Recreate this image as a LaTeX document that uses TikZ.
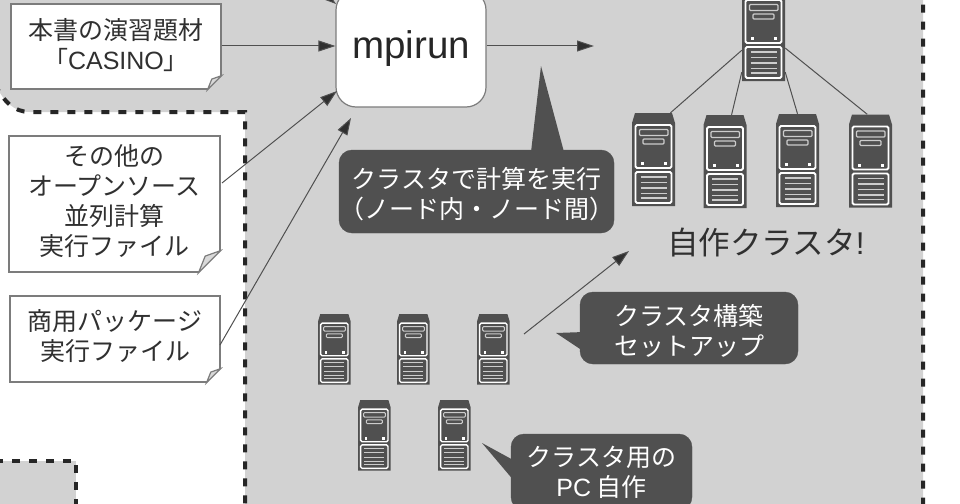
\documentclass[tikz,border=0pt]{standalone}
\usepackage{fontspec}
\setmainfont{Liberation Sans}
\newfontfamily\jpfont{Noto Sans CJK JP}
\usetikzlibrary{shapes,arrows.meta,calc}
\definecolor{areagray}{HTML}{D2D2D2}
\definecolor{darkgray}{HTML}{505050}
\definecolor{notegray}{HTML}{7C7C7C}
\definecolor{inkgray}{HTML}{303030}
\newcommand{\lastline}[1]{\rule[-#1]{0pt}{#1}}
\newcommand{\firstline}[1]{\rule{0pt}{#1}}
\tikzset{
  notebox/.style   = {draw=notegray, fill=white, line width=1.2pt, align=center,
                      inner sep=0pt, text=inkgray,
                      font=\jpfont\fontsize{25}{30}\selectfont},
  runbox/.style    = {draw=notegray, fill=white, line width=1.2pt, rounded corners=20pt,
                      inner sep=0pt, minimum width=150pt, minimum height=117pt,
                      text=black!85, font=\fontsize{38.5}{40}\selectfont},
  talkbox/.style   = {draw=darkgray, fill=darkgray, rounded corners=13pt, align=center,
                      inner sep=0pt, text=white,
                      font=\jpfont\fontsize{25}{30}\selectfont},
  flowedge/.style  = {draw=darkgray, line width=1pt, -{Triangle[length=17pt,width=11pt,fill=inkgray]}},
  linkedge/.style  = {draw=darkgray, line width=1pt},
  areaedge/.style  = {draw=black!85, line width=4pt, dash pattern=on 8pt off 9pt},
  serverbox/.style = {rectangle, inner sep=0pt, minimum width=43pt, minimum height=93pt}
}
\newcommand{\servernode}[4]{
  \begin{scope}[shift={(#2,#3)},scale=#4]
    \node[serverbox,transform shape] (#1) at (21.5,46.5) {};
    \fill[darkgray] (3,0) -- (40,0) -- (43,10) -- (43,93) -- (0,93) -- (0,10) -- cycle;
    \draw[white,line width=#4*1.8pt,rounded corners=1.5pt] (3.5,12) rectangle (39.5,55);
    \draw[white,line width=#4*1.8pt,rounded corners=1.5pt] (3.5,59) rectangle (39.5,90);
    \draw[white!80!black,line width=#4*1.3pt,rounded corners=1pt] (7.5,16.5) rectangle (36,22.5);
    \draw[white!80!black,line width=#4*1.3pt,rounded corners=1pt] (11,26) rectangle (32,31);
    \fill[white] (9,49) rectangle +(3,3);
    \fill[white] (32,49) rectangle +(3,3);
    \foreach \liney in {64,69.5,75,80.5,85}
      \draw[white!80!black,line width=#4*1.2pt] (8.5,\liney) -- (34.5,\liney);
  \end{scope}
}
\newcommand{\notefold}[3]{
  \fill[#3] ($(#1.south east)+(-#2,0.6)$) -- ($(#1.south east)+(0.6,0.6)$)
    -- ($(#1.south east)+(0.6,-#2)$) -- cycle;
  \filldraw[draw=notegray,fill=white!85!black,line width=1.2pt]
    ($(#1.south east)+(-#2,0)$) -- ($(#1.south east)+(0,-#2)$)
    -- ($(#1.south east)+(-#2*0.7,-#2*0.75)$) -- cycle;
}

\begin{document}
\begin{tikzpicture}[x=1pt,y=-1pt]
  \useasboundingbox (0,0) rectangle (960,503);
  \clip (0,0) rectangle (960,503);
  \fill[white] (0,0) rectangle (960,503);
  \filldraw[fill=areagray,areaedge] (-5,84) .. controls (4,102) and (14,112) .. (30,112)
    -- (245,112) -- (245,510) -- (923,510) -- (923,-5) -- (-5,-5);
  \fill[areagray] (-5,84) -- (-5,-5) -- (100,-5) -- (100,84) -- cycle;
  \filldraw[fill=areagray,areaedge] (-5,461) -- (76,461) -- (76,510) -- (-5,510);

  \node[notebox,minimum width=210pt,minimum height=85pt] (casino) at (116,46.5)
    {本書の演習題材\\{\jpfont 「}{\fontspec{Liberation Sans}CASINO}{\jpfont 」}\lastline{6pt}};
  \node[notebox,minimum width=211pt,minimum height=136pt] (opensrc) at (114.5,204)
    {その他の\\オープンソース\\並列計算\\実行ファイル\lastline{8pt}};
  \node[notebox,minimum width=210pt,minimum height=86pt] (package) at (115,339)
    {商用パッケージ\\実行ファイル\lastline{8pt}};
  \notefold{casino}{14}{areagray}
  \notefold{opensrc}{22}{white}
  \notefold{package}{14}{white}

  \node[runbox] (mpirun) at (411,48.5) {mpirun};
  \coordinate (runout) at (594,46);
  \coordinate (pkgin) at (351,118);
  \coordinate (topsrc) at (300,-25);
  \coordinate (topin) at (336,4);
  \draw[flowedge] (topsrc) -- (topin);
  \draw[flowedge] (casino.east |- 0,46) -- (mpirun.west |- 0,46);
  \draw[flowedge] (222,183) -- (337,91);
  \draw[flowedge] (220,345) -- (pkgin);
  \draw[flowedge] (mpirun.east |- 0,46) -- (runout);

  \fill[darkgray] (541,66) -- (531,152) -- (564,152) -- cycle;
  \node[talkbox,minimum width=273pt,minimum height=83pt] (runtalk) at (476.5,191.5)
    {\firstline{26pt}クラスタで計算を実行\\（ノード内・ノード間）};
  \fill[darkgray] (556,333) -- (584,332) -- (586,353) -- cycle;
  \node[talkbox,minimum width=218pt,minimum height=72pt] (setuptalk) at (689,328)
    {\firstline{26pt}クラスタ構築\\セットアップ};
  \fill[darkgray] (482,443) -- (515,461) -- (515,482) -- cycle;
  \node[talkbox,minimum width=181pt,minimum height=76pt] (pctalk) at (601.5,472)
    {クラスタ用の\\{\fontspec{Liberation Sans}PC} 自作};

  \servernode{headsrv}{742}{-12}{1}
  \servernode{nodea}{632}{113}{1}
  \servernode{nodeb}{703.5}{115}{1}
  \servernode{nodec}{776}{114}{1}
  \servernode{noded}{849}{114.5}{1}
  \servernode{pca}{318}{314}{0.76}
  \servernode{pcb}{397}{314}{0.76}
  \servernode{pcc}{477}{314}{0.76}
  \servernode{pcd}{358}{400}{0.76}
  \servernode{pce}{438}{400}{0.76}
  \draw[linkedge] (headsrv.216) -- (nodea.70);
  \draw[linkedge] (headsrv.-120) -- (nodeb.82);
  \draw[linkedge] (headsrv.-60) -- (nodec.north);
  \draw[linkedge] (headsrv.-32) -- (noded.94);

  \coordinate (pcout) at (524,334);
  \coordinate (clusterin) at (629,251);
  \draw[flowedge] (pcout) -- (clusterin);
  \node[text=inkgray,inner sep=0pt,font=\jpfont\fontsize{31.5}{34}\selectfont] (selfmade) at (766,243)
    {自作クラスタ{\fontspec{Liberation Sans}!}};
\end{tikzpicture}
\end{document}
